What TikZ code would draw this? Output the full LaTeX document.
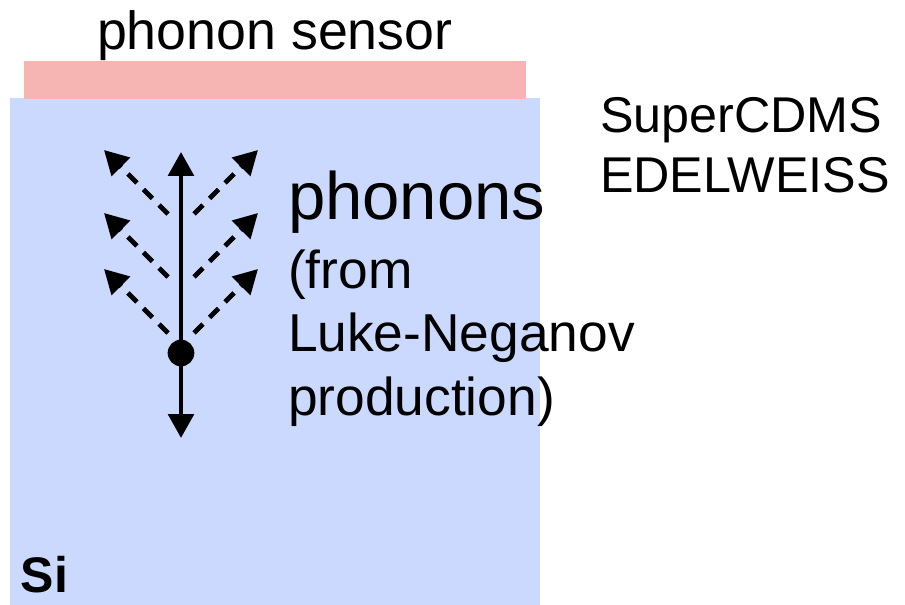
\documentclass[tikz,border=0pt]{standalone}
\usepackage{fontspec}
\setmainfont{Liberation Sans}
\usetikzlibrary{arrows.meta}
\definecolor{siblue}{HTML}{CAD9FD}
\definecolor{sensorpink}{HTML}{F6B4B2}
\tikzset{
  txt/.style={anchor=base west, inner sep=0pt, outer sep=0pt, text=black},
  solidarrow/.style={line width=3.6pt, -{Triangle[width=19pt,length=18pt]}},
  dasharrow/.style={line width=3.6pt, dash pattern=on 9.5pt off 7pt, -{Triangle[width=19pt,length=18pt]}},
  dotnode/.style={circle, fill=black, minimum size=20pt, inner sep=0pt}
}
\begin{document}
\begin{tikzpicture}[x=0.75pt,y=-0.75pt]
\useasboundingbox (0,0) rectangle (905,605);
% substrate and sensor
\fill[siblue] (10,98) rectangle (540,605);
\fill[sensorpink] (24,61) rectangle (526,99);
% labels
\node[txt, font=\fontsize{40.3pt}{44pt}\selectfont] (sensorlbl) at (97,50) {phonon sensor};
\node[txt, font=\fontsize{50.3pt}{56pt}\selectfont] (phononslbl) at (288,220) {phonons};
\node[txt, font=\fontsize{40pt}{44pt}\selectfont] (fromlbl) at (288,289) {(from};
\node[txt, font=\fontsize{40pt}{44pt}\selectfont] (lukelbl) at (288,352) {Luke-Neganov};
\node[txt, font=\fontsize{40pt}{44pt}\selectfont] (prodlbl) at (288,415) {production)};
\node[txt, font=\fontsize{37.7pt}{42pt}\selectfont] (cdmslbl) at (600,133) {SuperCDMS};
\node[txt, font=\fontsize{37.7pt}{42pt}\selectfont] (edelbl) at (600,193) {EDELWEISS};
\node[txt, font=\bfseries\fontsize{37.5pt}{42pt}\selectfont] (silbl) at (21,592) {Si};
% event point and arrows
\node[dotnode] (dot) at (181,353) {};
\coordinate (uptip) at (181,152);
\coordinate (downtip) at (181,438);
\draw[solidarrow] (dot.center) -- (uptip);
\draw[solidarrow] (dot.center) -- (downtip);
% dashed phonon arrows
\foreach \i/\ys in {a/333,b/277,c/214}{
  \coordinate (l\i s) at (168,\ys);
  \coordinate (l\i t) at (104,\ys-64);
  \coordinate (r\i s) at (194,\ys);
  \coordinate (r\i t) at (258,\ys-64);
  \draw[dasharrow] (l\i s) -- (l\i t);
  \draw[dasharrow] (r\i s) -- (r\i t);
}
\end{tikzpicture}
\end{document}
